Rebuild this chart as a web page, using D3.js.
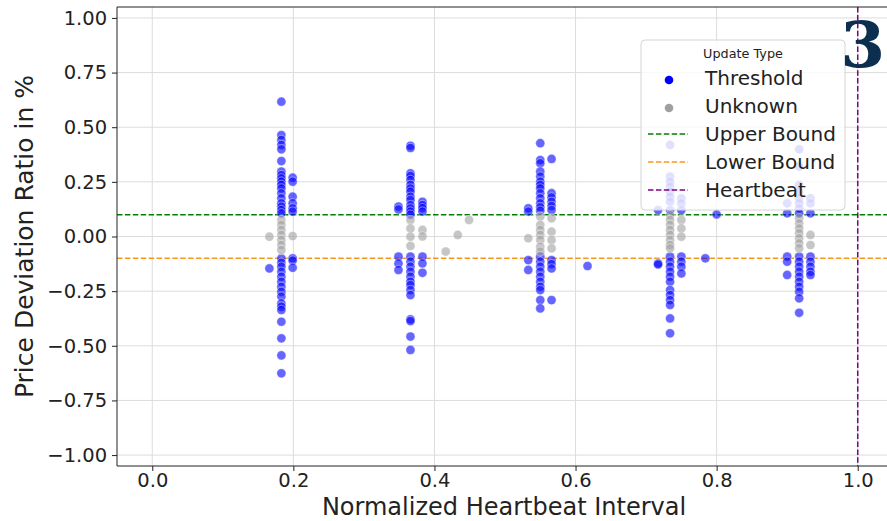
<!DOCTYPE html>
<html>
<head>
<meta charset="utf-8">
<script src="https://cdn.jsdelivr.net/npm/d3@7"></script>
<style>
  body { margin: 0; background: #fff; }
  svg { display: block; font-family: "DejaVu Sans", sans-serif; }
</style>
</head>
<body>
<svg id="chart" width="887" height="521"></svg>
<script>
// normalized heartbeat interval of each column of points
const intervals = [0.166, 0.183, 0.199, 0.349, 0.366, 0.383, 0.416, 0.433, 0.449,
                   0.533, 0.55, 0.566, 0.617, 0.717, 0.734, 0.75, 0.784, 0.8,
                   0.9, 0.917, 0.933];

// price deviation ratio (%) of "Threshold" updates, one list per interval
const thresholdDev = [
  [-0.146],
  [0.617, 0.464, 0.442, 0.419, 0.399, 0.345, 0.297, 0.281, 0.266, 0.251, 0.236, 0.22, 0.198,
   0.175, 0.152, 0.137, 0.121, 0.106, -0.1, -0.12, -0.138, -0.161, -0.184, -0.207, -0.23,
   -0.253, -0.275, -0.306, -0.321, -0.336, -0.39, -0.466, -0.544, -0.626],
  [0.269, 0.251, 0.182, 0.152, 0.129, 0.114, -0.1, -0.11, -0.143],
  [0.137, 0.124, -0.092, -0.123, -0.153],
  [0.415, 0.405, 0.289, 0.277, 0.259, 0.236, 0.22, 0.205, 0.182, 0.167, 0.144, 0.129, 0.114,
   0.1, -0.092, -0.115, -0.138, -0.161, -0.184, -0.207, -0.222, -0.245, -0.268, -0.379,
   -0.387, -0.458, -0.519],
  [0.159, 0.144, 0.13, 0.114, -0.092, -0.123, -0.166],
  [], [], [],
  [0.129, 0.114, -0.108, -0.153],
  [0.427, 0.35, 0.335, 0.297, 0.274, 0.251, 0.236, 0.22, 0.198, 0.175, 0.152, 0.134, 0.118,
   -0.092, -0.115, -0.138, -0.161, -0.184, -0.207, -0.23, -0.245, -0.291, -0.329],
  [0.355, 0.198, 0.179, 0.159, 0.14, 0.121, -0.108, -0.126, -0.146, -0.291],
  [-0.135],
  [0.121, -0.123, -0.128],
  [0.419, 0.274, 0.251, 0.228, 0.205, 0.182, 0.159, 0.121, -0.092, -0.115, -0.138, -0.161,
   -0.184, -0.207, -0.245, -0.268, -0.291, -0.313, -0.375, -0.443],
  [0.175, 0.152, 0.121, -0.092, -0.115, -0.138, -0.169],
  [-0.1],
  [0.101],
  [0.152, 0.106, -0.092, -0.115, -0.176],
  [0.399, 0.32, 0.236, 0.205, 0.175, 0.152, 0.129, 0.106, -0.092, -0.115, -0.138, -0.161,
   -0.184, -0.207, -0.23, -0.253, -0.283, -0.349],
  [0.175, 0.152, 0.106, -0.092, -0.115, -0.138, -0.161, -0.176]
];

// price deviation ratio (%) of "Unknown" updates, one list per interval
const unknownDev = [
  [-0.001],
  [0.076, 0.053, 0.03, 0.007, -0.016, -0.039, -0.062],
  [0.002],
  [],
  [0.076, 0.037, -0.001, -0.043],
  [0.03, 0],
  [-0.069], [0.007], [0.076],
  [-0.008],
  [0.091, 0.053, 0.03, 0.007, -0.016, -0.047, -0.069],
  [0.083, 0.022, -0.016, -0.054],
  [],
  [],
  [0.098, 0.076, 0.053, 0.03, 0.007, -0.016, -0.039, -0.054],
  [0.076, 0.037, -0.001],
  [], [],
  [],
  [0.083, 0.06, 0.037, 0.015, -0.008, -0.031, -0.054],
  [0.007, -0.039]
];

const upperBound = 0.1;
const lowerBound = -0.1;
const heartbeat = 1.0;

const xTicks = [0, 0.2, 0.4, 0.6, 0.8, 1.0];
const yTicks = [-1, -0.75, -0.5, -0.25, 0, 0.25, 0.5, 0.75, 1];

const legendItems = [
  { label: "Threshold", type: "dot", color: "#0000ff" },
  { label: "Unknown", type: "dot", color: "#a0a0a0" },
  { label: "Upper Bound", type: "line", color: "green" },
  { label: "Lower Bound", type: "line", color: "#f7981c" },
  { label: "Heartbeat", type: "line", color: "purple" }
];

const svg = d3.select("#chart");
const pLeft = 117, pRight = 893, pTop = 7, pBottom = 466;

const x = d3.scaleLinear().domain([-0.05, 1.05]).range([pLeft, pRight]);
const y = d3.scaleLinear().domain([-1.05, 1.05]).range([pBottom, pTop]);

// grid
svg.append("g")
  .selectAll("line")
  .data(xTicks)
  .enter().append("line")
  .attr("x1", d => x(d)).attr("x2", d => x(d))
  .attr("y1", pTop).attr("y2", pBottom)
  .attr("stroke", "#dcdcdc").attr("stroke-width", 1);
svg.append("g")
  .selectAll("line")
  .data(yTicks)
  .enter().append("line")
  .attr("x1", pLeft).attr("x2", pRight)
  .attr("y1", d => y(d)).attr("y2", d => y(d))
  .attr("stroke", "#dcdcdc").attr("stroke-width", 1);

// bounds
svg.append("line")
  .attr("x1", pLeft).attr("x2", pRight)
  .attr("y1", y(upperBound)).attr("y2", y(upperBound))
  .attr("stroke", "green").attr("stroke-width", 1.5).attr("stroke-dasharray", "5.5,2.4");
svg.append("line")
  .attr("x1", pLeft).attr("x2", pRight)
  .attr("y1", y(lowerBound)).attr("y2", y(lowerBound))
  .attr("stroke", "#f7981c").attr("stroke-width", 1.5).attr("stroke-dasharray", "5.5,2.4");

// points
function flatten(devs) {
  const pts = [];
  devs.forEach((list, i) => list.forEach(v => pts.push([intervals[i], v])));
  return pts;
}

svg.append("g")
  .selectAll("circle")
  .data(flatten(thresholdDev))
  .enter().append("circle")
  .attr("cx", d => x(d[0]))
  .attr("cy", d => y(d[1]))
  .attr("r", 4.6)
  .attr("fill", "#0000ff")
  .attr("fill-opacity", 0.6)
  .attr("stroke", "#fff")
  .attr("stroke-opacity", 0.6)
  .attr("stroke-width", 0.7);

svg.append("g")
  .selectAll("circle")
  .data(flatten(unknownDev))
  .enter().append("circle")
  .attr("cx", d => x(d[0]))
  .attr("cy", d => y(d[1]))
  .attr("r", 4.6)
  .attr("fill", "#a0a0a0")
  .attr("fill-opacity", 0.6)
  .attr("stroke", "#fff")
  .attr("stroke-opacity", 0.6)
  .attr("stroke-width", 0.7);

// heartbeat line
svg.append("line")
  .attr("x1", x(heartbeat)).attr("x2", x(heartbeat))
  .attr("y1", pTop).attr("y2", pBottom)
  .attr("stroke", "purple").attr("stroke-width", 1.5).attr("stroke-dasharray", "5.5,2.4");

// axes
const xAxis = svg.append("g")
  .attr("transform", "translate(0," + pBottom + ")")
  .call(d3.axisBottom(x).tickValues(xTicks).tickFormat(d3.format(".1f")).tickSize(5).tickSizeOuter(0));
const yAxis = svg.append("g")
  .attr("transform", "translate(" + pLeft + ",0)")
  .call(d3.axisLeft(y).tickValues(yTicks).tickFormat(d => d3.format(".2f")(d).replace("-", "\u2212")).tickSize(5).tickSizeOuter(0));
[xAxis, yAxis].forEach(a => {
  a.select(".domain").remove();
  a.selectAll("text").attr("font-size", 19.5).attr("fill", "#222").attr("font-family", "DejaVu Sans");
  a.selectAll("line").attr("stroke", "#222");
});
xAxis.selectAll("text").attr("dy", "0.65em");
yAxis.selectAll("text").attr("dx", "-0.1em");

// spines
svg.append("line").attr("x1", pLeft).attr("x2", pLeft).attr("y1", pTop).attr("y2", pBottom).attr("stroke", "#222");
svg.append("line").attr("x1", pLeft).attr("x2", pRight).attr("y1", pBottom).attr("y2", pBottom).attr("stroke", "#222");
svg.append("line").attr("x1", pLeft).attr("x2", pRight).attr("y1", pTop).attr("y2", pTop).attr("stroke", "#222");

// axis labels
svg.append("text")
  .attr("x", 504).attr("y", 515)
  .attr("text-anchor", "middle")
  .attr("font-size", 24).attr("fill", "#222")
  .text("Normalized Heartbeat Interval");
svg.append("text")
  .attr("transform", "translate(33," + y(0) + ") rotate(-90)")
  .attr("text-anchor", "middle")
  .attr("font-size", 25).attr("fill", "#222")
  .text("Price Deviation Ratio in %");

// legend
const lg = svg.append("g").attr("transform", "translate(641,40)");
lg.append("rect")
  .attr("width", 204).attr("height", 170).attr("rx", 4)
  .attr("fill", "#fff").attr("fill-opacity", 0.8)
  .attr("stroke", "#d4d4d4");
lg.append("text")
  .attr("x", 102).attr("y", 18)
  .attr("text-anchor", "middle")
  .attr("font-size", 12.8).attr("fill", "#222")
  .text("Update Type");
legendItems.forEach((d, i) => {
  const yy = 38 + i * 28;
  if (d.type === "dot") {
    lg.append("circle").attr("cx", 28).attr("cy", yy + 2).attr("r", 4.3).attr("fill", d.color);
  } else {
    lg.append("line").attr("x1", 7).attr("x2", 47).attr("y1", yy).attr("y2", yy)
      .attr("stroke", d.color).attr("stroke-width", 1.5).attr("stroke-dasharray", "5.5,2.4");
  }
  lg.append("text")
    .attr("x", 64).attr("y", yy + 7)
    .attr("font-size", 20).attr("fill", "#222")
    .text(d.label);
});

// panel number
svg.append("text")
  .attr("x", 885).attr("y", 67)
  .attr("text-anchor", "end")
  .attr("font-family", "DejaVu Serif, serif")
  .attr("font-weight", "bold")
  .attr("font-size", 64)
  .attr("fill", "#0d2f4f")
  .text("3");
</script>
</body>
</html>
